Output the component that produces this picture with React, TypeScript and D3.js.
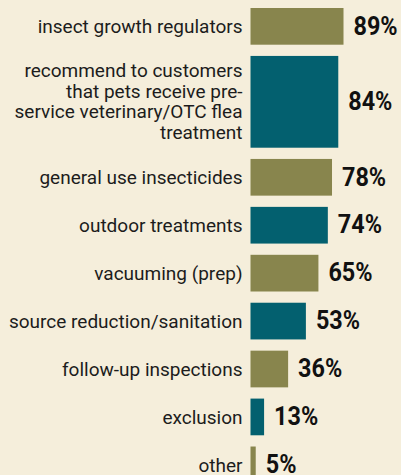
import React from "react";
import * as d3 from "d3";

const categories: string[][] = [
  ["insect growth regulators"],
  ["recommend to customers", "that pets receive pre-", "service veterinary/OTC flea", "treatment"],
  ["general use insecticides"],
  ["outdoor treatments"],
  ["vacuuming (prep)"],
  ["source reduction/sanitation"],
  ["follow-up inspections"],
  ["exclusion"],
  ["other"],
];
const values: number[] = [89, 84, 78, 74, 65, 53, 36, 13, 5];
const palette: string[] = ["#88854d", "#03606f"];

const W = 401;
const H = 475;
const BG = "#f5eedb";
const X0 = 250.5;
const LINE_H = 18.36;
const BASE_H = 36.7;
const GAP = 11.23;
const TOP = 8;
const LABEL_FS = 19;
const LABEL_SX = 1;
const LINE_SPACING = 20.5;
const VALUE_FS = 26;
const VALUE_SX = 0.9;

export default function App() {
  const x = d3.scaleLinear().domain([0, 100]).range([X0, 355]);
  let cursor = TOP;
  const rows = categories.map((lines, i) => {
    const h = BASE_H + (lines.length - 1) * LINE_H;
    const y = cursor;
    cursor += h + GAP;
    return { lines, value: values[i], y, h, color: palette[i % 2] };
  });
  const labelRight = X0 - 8;
  return (
    <svg
      width={W}
      height={H}
      style={{ position: "absolute", left: 0, top: 0, display: "block" }}
    >
      <rect x={0} y={0} width={W} height={H} fill={BG} />
      {rows.map((r, i) => {
        const cy = r.y + r.h / 2;
        const off = r.lines.length > 1 ? 6.0 : 6.65;
        const firstBase = cy - ((r.lines.length - 1) * LINE_SPACING) / 2 + off;
        const xv = x(r.value) + 10;
        return (
          <g key={i}>
            <rect x={X0} y={r.y} width={x(r.value) - X0} height={r.h} fill={r.color} />
            <g transform={`translate(${labelRight},0) scale(${LABEL_SX},1)`}>
              {r.lines.map((ln, j) => (
                <text
                  key={j}
                  x={0}
                  y={firstBase + j * LINE_SPACING}
                  textAnchor="end"
                  fontFamily="Roboto, sans-serif"
                  fontSize={LABEL_FS}
                  fill="#1c1c1c"
                >
                  {ln}
                </text>
              ))}
            </g>
            <g transform={`translate(${xv},0) scale(${VALUE_SX},1)`}>
              <text
                x={0}
                y={cy + VALUE_FS * 0.711 / 2 - 1}
                fontFamily="Roboto, sans-serif"
                fontWeight={700}
                fontSize={VALUE_FS}
                fill="#111"
              >
                {r.value}%
              </text>
            </g>
          </g>
        );
      })}
    </svg>
  );
}
